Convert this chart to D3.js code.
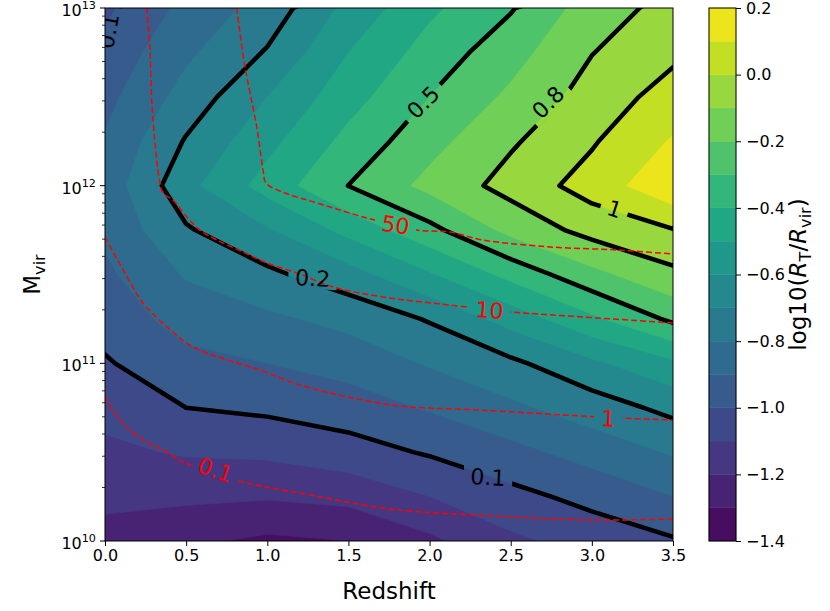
<!DOCTYPE html>
<html>
<head>
<meta charset="utf-8">
<script src="https://cdn.jsdelivr.net/npm/d3@7"></script>
<style>
  body { margin: 0; background: #ffffff; }
  svg text { font-family: "DejaVu Sans", sans-serif; }
</style>
</head>
<body>
<svg id="chart" width="830" height="611"></svg>
<script>
// ---- grid axes of the tidal-radius table ----
const redshifts = [0.0, 0.5, 1.0, 1.5, 2.0, 2.5, 3.0, 3.5];
const logMasses = [10.0, 10.25, 10.5, 10.75, 11.0, 11.25, 11.5, 11.75, 12.0, 12.25, 12.5, 12.75, 13.0];

// ---- log10(R_T / R_vir), one row per halo mass (columns follow redshifts) ----
const logRatioM10_00 = [-1.23, -1.28, -1.32, -1.30, -1.22, -1.12, -1.06, -1.01];
const logRatioM10_25 = [-1.18, -1.18, -1.19, -1.17, -1.10, -1.03, -0.97, -0.90];
const logRatioM10_50 = [-1.12, -1.09, -1.08, -1.04, -0.99, -0.93, -0.86, -0.79];
const logRatioM10_75 = [-1.07, -1.00, -0.98, -0.95, -0.89, -0.82, -0.75, -0.67];
const logRatioM11_00 = [-1.01, -0.93, -0.90, -0.86, -0.79, -0.72, -0.62, -0.52];
const logRatioM11_25 = [-0.96, -0.86, -0.82, -0.77, -0.69, -0.56, -0.42, -0.28];
const logRatioM11_50 = [-0.92, -0.79, -0.72, -0.64, -0.51, -0.37, -0.23, -0.12];
const logRatioM11_75 = [-0.88, -0.71, -0.61, -0.47, -0.33, -0.17, -0.06, -0.005];
const logRatioM12_00 = [-0.86, -0.63, -0.46, -0.30, -0.17, -0.06, 0.04, 0.18];
const logRatioM12_25 = [-0.89, -0.69, -0.53, -0.37, -0.235, -0.11, -0.01, 0.11];
const logRatioM12_50 = [-0.93, -0.76, -0.60, -0.44, -0.30, -0.18, -0.055, 0.04];
const logRatioM12_75 = [-0.97, -0.82, -0.69, -0.50, -0.36, -0.24, -0.10, -0.02];
const logRatioM13_00 = [-1.02, -0.87, -0.76, -0.57, -0.42, -0.31, -0.15, -0.06];

// filled-contour levels and the R_T/R_vir values traced in black
const fillLevels = [-1.4, -1.3, -1.2, -1.1, -1.0, -0.9, -0.8, -0.7, -0.6, -0.5, -0.4, -0.3, -0.2, -0.1, 0.0, 0.1, 0.2];
const ratioLevels = [0.1, 0.2, 0.5, 0.8, 1];

// ---- red dashed curves: [redshift, log10 Mvir] ----
const curveLevelLabels = ["0.1", "1", "10", "50"];
const curve0p1 = [[0.0, 10.811], [0.092, 10.681], [0.234, 10.569], [0.382, 10.501], [0.481, 10.445], [0.875, 10.327],
  [1.201, 10.270], [1.762, 10.180], [2.391, 10.141], [3.013, 10.118], [3.5, 10.124]];
const curve1 = [[0.0, 11.711], [0.136, 11.486], [0.234, 11.340], [0.382, 11.205], [0.542, 11.092], [0.752, 11.019],
  [0.955, 10.963], [1.201, 10.878], [1.762, 10.766], [2.311, 10.737], [2.927, 10.704], [3.173, 10.692], [3.5, 10.681]];
const curve10 = [[0.257, 13.0], [0.277, 12.764], [0.288, 12.482], [0.308, 12.240], [0.335, 12.032], [0.357, 11.959],
  [0.419, 11.919], [0.505, 11.823], [0.585, 11.750], [0.690, 11.694], [0.850, 11.627], [0.998, 11.565],
  [1.183, 11.508], [1.405, 11.430], [1.713, 11.373], [2.126, 11.328], [2.508, 11.289], [2.945, 11.261], [3.5, 11.227]];
const curve50 = [[0.811, 13.0], [0.863, 12.668], [0.935, 12.330], [0.974, 12.088], [0.992, 12.015], [1.109, 11.959],
  [1.306, 11.903], [1.614, 11.818], [1.922, 11.750], [2.126, 11.739], [2.329, 11.694], [2.742, 11.655],
  [3.155, 11.638], [3.5, 11.615]];

// ---- ticks ----
const xTicks = [0.0, 0.5, 1.0, 1.5, 2.0, 2.5, 3.0, 3.5];
const yTickExponents = [10, 11, 12, 13];
const cbarTicks = [-1.4, -1.2, -1.0, -0.8, -0.6, -0.4, -0.2, 0.0, 0.2];

// ---- layout ----
const plot = { left: 105, right: 673, top: 8, bottom: 541 };
const cbarBox = { left: 709, right: 736, top: 8, bottom: 541 };
const tickFont = 16, labelFont = 23, contourFont = 22;

// inline label placement (redshift, log10 Mvir, rotation in degrees)
const blackLabelSpots = [
  { level: 0.1, z: 2.36, m: 10.36, angle: 3 },
  { level: 0.2, z: 1.28, m: 11.48, angle: 3 },
  { level: 0.5, z: 1.96, m: 12.47, angle: -45 },
  { level: 0.8, z: 2.73, m: 12.47, angle: -45 },
  { level: 1, z: 3.14, m: 11.87, angle: 18 },
  { level: 0.1, z: 0.02, m: 12.87, angle: -80 }
];
const redLabelSpots = [
  { curve: 0, z: 0.68, m: 10.40, angle: 19 },
  { curve: 1, z: 3.10, m: 10.69, angle: 3 },
  { curve: 2, z: 2.37, m: 11.30, angle: 4 },
  { curve: 3, z: 1.79, m: 11.78, angle: 9 }
];

const svg = d3.select("#chart");
const x = d3.scaleLinear().domain(d3.extent(xTicks)).range([plot.left, plot.right]);
const y = d3.scaleLog().domain([Math.pow(10, yTickExponents[0]), Math.pow(10, yTickExponents[yTickExponents.length - 1])])
  .range([plot.bottom, plot.top]);
const cb = d3.scaleLinear().domain(d3.extent(fillLevels)).range([cbarBox.bottom, cbarBox.top]);
const nBands = fillLevels.length - 1;
const bandColor = i => d3.interpolateViridis((i + 0.5) / nBands);

// ---- grid -> pixel projection for d3.contours output ----
const rows = [logRatioM10_00, logRatioM10_25, logRatioM10_50, logRatioM10_75, logRatioM11_00, logRatioM11_25,
  logRatioM11_50, logRatioM11_75, logRatioM12_00, logRatioM12_25, logRatioM12_50, logRatioM12_75, logRatioM13_00];
const nx = redshifts.length, ny = logMasses.length;
const values = rows.flat();
const dz = redshifts[1] - redshifts[0], dm = logMasses[1] - logMasses[0];
const gridX = c => x(redshifts[0] + (c - 0.5) * dz);
const gridY = r => y(Math.pow(10, logMasses[0] + (r - 0.5) * dm));
const gridPath = d3.geoPath(d3.geoTransform({
  point(px, py) { this.stream.point(gridX(px), gridY(py)); }
}));
const contourGen = d3.contours().size([nx, ny]);

const defs = svg.append("defs");
defs.append("clipPath").attr("id", "plotClip").append("rect")
  .attr("x", plot.left).attr("y", plot.top)
  .attr("width", plot.right - plot.left).attr("height", plot.bottom - plot.top);

const plotG = svg.append("g").attr("clip-path", "url(#plotClip)");

// filled bands
const fillG = plotG.append("g");
fillLevels.slice(0, -1).forEach((lv, i) => {
  fillG.append("path")
    .attr("d", gridPath(contourGen.contour(values, lv)))
    .attr("fill", bandColor(i))
    .attr("stroke", bandColor(i))
    .attr("stroke-width", 0.6);
});

// masks that open gaps in the lines under each inline label
function makeMask(id) {
  const m = defs.append("mask").attr("id", id).attr("maskUnits", "userSpaceOnUse")
    .attr("x", 0).attr("y", 0).attr("width", 830).attr("height", 611);
  m.append("rect").attr("x", 0).attr("y", 0).attr("width", 830).attr("height", 611).attr("fill", "white");
  return m;
}
const blackMask = makeMask("blackGap");
const redMask = makeMask("redGap");

// black R_T/R_vir contours
const blackG = plotG.append("g").attr("mask", "url(#blackGap)");
ratioLevels.forEach(r => {
  blackG.append("path")
    .attr("d", gridPath(contourGen.contour(values, Math.log10(r))))
    .attr("fill", "none")
    .attr("stroke", "#000")
    .attr("stroke-width", 4.5)
    .attr("stroke-linejoin", "round");
});

// red dashed curves
const redCurves = [curve0p1, curve1, curve10, curve50];
const redLine = d3.line()
  .x(d => x(d[0]))
  .y(d => y(Math.pow(10, d[1])))
  .curve(d3.curveCatmullRom.alpha(0.5));
const redG = plotG.append("g").attr("mask", "url(#redGap)");
redCurves.forEach(c => {
  redG.append("path")
    .attr("d", redLine(c))
    .attr("fill", "none")
    .attr("stroke", "#ff0000")
    .attr("stroke-width", 1.5)
    .attr("stroke-dasharray", "6,3");
});

// inline labels
const labelG = plotG.append("g");
function inlineLabel(text, z, m, angle, color, mask) {
  const px = x(z), py = y(Math.pow(10, m));
  const tf = `translate(${px},${py}) rotate(${angle})`;
  const t = labelG.append("text")
    .attr("transform", tf)
    .attr("text-anchor", "middle")
    .attr("dy", "0.36em")
    .attr("font-size", contourFont)
    .attr("fill", color)
    .text(text);
  const w = t.node().getComputedTextLength();
  mask.append("rect")
    .attr("transform", tf)
    .attr("x", -w / 2 - 7).attr("y", -contourFont * 0.5)
    .attr("width", w + 14).attr("height", contourFont)
    .attr("fill", "black");
}
blackLabelSpots.forEach(s => inlineLabel(String(s.level), s.z, s.m, s.angle, "#000", blackMask));
redLabelSpots.forEach(s => inlineLabel(curveLevelLabels[s.curve], s.z, s.m, s.angle, "#ff0000", redMask));

// ---- axes ----
const axisG = svg.append("g");
const xAxis = axisG.append("g")
  .attr("transform", `translate(0,${plot.bottom})`)
  .call(d3.axisBottom(x).tickValues(xTicks).tickFormat(d3.format(".1f")).tickSize(5).tickPadding(4));
xAxis.select(".domain").remove();
xAxis.selectAll("text").attr("font-size", tickFont).attr("fill", "#000").attr("font-family", "DejaVu Sans");
xAxis.selectAll("line").attr("stroke", "#000");

// y: decade labels with superscripts, plus minor ticks from the log scale
const yAxisG = axisG.append("g").attr("transform", `translate(${plot.left},0)`);
const decadeTicks = yTickExponents.map(e => Math.pow(10, e));
y.ticks().filter(v => !decadeTicks.some(d => Math.abs(d - v) / d < 1e-9)).forEach(v => {
  yAxisG.append("line").attr("x1", -3).attr("x2", 0).attr("y1", y(v)).attr("y2", y(v))
    .attr("stroke", "#000").attr("stroke-width", 0.8);
});
yTickExponents.forEach(e => {
  const yy = y(Math.pow(10, e));
  yAxisG.append("line").attr("x1", -5).attr("x2", 0).attr("y1", yy).attr("y2", yy)
    .attr("stroke", "#000").attr("stroke-width", 1);
  const t = yAxisG.append("text")
    .attr("x", -9).attr("y", yy + 8)
    .attr("text-anchor", "end")
    .attr("font-size", tickFont).attr("fill", "#000");
  t.append("tspan").text("10");
  t.append("tspan").attr("dy", -7).attr("font-size", tickFont * 0.7).text(String(e));
});

// plot frame
svg.append("rect")
  .attr("x", plot.left).attr("y", plot.top)
  .attr("width", plot.right - plot.left).attr("height", plot.bottom - plot.top)
  .attr("fill", "none").attr("stroke", "#000").attr("stroke-width", 1);

// axis titles
svg.append("text")
  .attr("x", (plot.left + plot.right) / 2).attr("y", 599)
  .attr("text-anchor", "middle").attr("font-size", labelFont).attr("fill", "#000")
  .text("Redshift");
const yTitle = svg.append("text")
  .attr("transform", `translate(40,${(plot.top + plot.bottom) / 2}) rotate(-90)`)
  .attr("text-anchor", "middle").attr("font-size", labelFont).attr("fill", "#000");
yTitle.append("tspan").text("M");
yTitle.append("tspan").attr("dy", 5).attr("font-size", labelFont * 0.7).text("vir");

// ---- colorbar ----
const cbG = svg.append("g");
fillLevels.slice(0, -1).forEach((lv, i) => {
  cbG.append("rect")
    .attr("x", cbarBox.left).attr("width", cbarBox.right - cbarBox.left)
    .attr("y", cb(fillLevels[i + 1])).attr("height", cb(lv) - cb(fillLevels[i + 1]))
    .attr("fill", bandColor(i)).attr("stroke", bandColor(i)).attr("stroke-width", 0.4);
});
cbG.append("rect")
  .attr("x", cbarBox.left).attr("y", cbarBox.top)
  .attr("width", cbarBox.right - cbarBox.left).attr("height", cbarBox.bottom - cbarBox.top)
  .attr("fill", "none").attr("stroke", "#000").attr("stroke-width", 1);
const cbAxis = cbG.append("g")
  .attr("transform", `translate(${cbarBox.right},0)`)
  .call(d3.axisRight(cb).tickValues(cbarTicks).tickFormat(d3.format(".1f")).tickSize(5).tickPadding(5));
cbAxis.select(".domain").remove();
cbAxis.selectAll("text").attr("font-size", tickFont).attr("fill", "#000").attr("font-family", "DejaVu Sans");
cbAxis.selectAll("line").attr("stroke", "#000");

const cbTitle = svg.append("text")
  .attr("transform", `translate(806,${(cbarBox.top + cbarBox.bottom) / 2}) rotate(-90)`)
  .attr("text-anchor", "middle").attr("font-size", labelFont).attr("fill", "#000");
cbTitle.append("tspan").text("log10(");
cbTitle.append("tspan").attr("font-style", "italic").text("R");
cbTitle.append("tspan").attr("dy", 5).attr("font-size", labelFont * 0.7).text("T");
cbTitle.append("tspan").attr("dy", -5).text("/");
cbTitle.append("tspan").attr("font-style", "italic").text("R");
cbTitle.append("tspan").attr("dy", 5).attr("font-size", labelFont * 0.7).text("vir");
cbTitle.append("tspan").attr("dy", -5).text(")");
</script>
</body>
</html>
